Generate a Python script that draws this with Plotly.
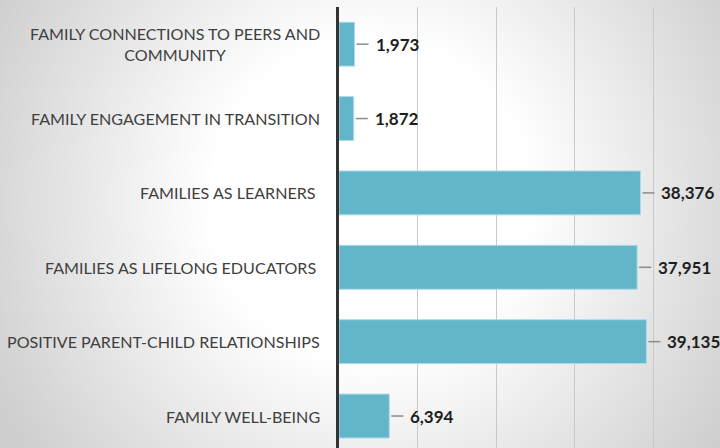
import plotly.graph_objects as go
import base64

# Data (bottom to top)
categories = [
    "FAMILY WELL-BEING",
    "POSITIVE PARENT-CHILD RELATIONSHIPS",
    "FAMILIES AS LIFELONG EDUCATORS ",
    "FAMILIES AS LEARNERS ",
    "FAMILY ENGAGEMENT IN TRANSITION",
    "FAMILY CONNECTIONS TO PEERS AND<br>COMMUNITY",
]
values = [6394, 39135, 37951, 38376, 1872, 1973]
value_labels = ["6,394", "39,135", "37,951", "38,376", "1,872", "1,973"]

BAR = "#63b5ca"
W, H = 720, 448

# radial gradient background as SVG data URI
svg = f'''<svg xmlns="http://www.w3.org/2000/svg" width="{W}" height="{H}">
<defs><radialGradient id="g" gradientUnits="userSpaceOnUse" cx="370" cy="200" r="420">
<stop offset="0" stop-color="#ffffff"/><stop offset="0.38" stop-color="#ffffff"/>
<stop offset="1" stop-color="#cfcfcf"/></radialGradient></defs>
<rect width="{W}" height="{H}" fill="url(#g)"/></svg>'''
bg = "data:image/svg+xml;base64," + base64.b64encode(svg.encode()).decode()

fig = go.Figure()
fig.add_trace(go.Bar(
    x=values, y=categories, orientation="h",
    marker=dict(color=BAR, line=dict(color="#a9dce8", width=1)),
    width=0.59, hoverinfo="skip",
))

annotations = []
shapes = []
for cat, v, lab in zip(categories, values, value_labels):
    annotations.append(dict(
        x=v, y=cat, xref="x", yref="y", text=lab, showarrow=False,
        xanchor="left", yanchor="middle", xshift=19,
        font=dict(family="Lato", size=17, color="#1e1e1e", weight="bold"),
    ))
    shapes.append(dict(
        type="line", xref="x", yref="y", xsizemode="pixel", xanchor=v,
        x0=2, x1=14, y0=cat, y1=cat,
        line=dict(color="#8c8c8c", width=1.5),
    ))
    annotations.append(dict(
        x=0, y=cat, xref="paper", yref="y",
        text=cat.rstrip() + ("\u00a0" if cat.endswith(" ") else ""),
        showarrow=False, xanchor="right", yanchor="middle", xshift=-17, align="center",
        font=dict(family="Lato", size=16.1, color="#404040"),
    ))

fig.update_layout(
    width=W, height=H,
    margin=dict(l=339, r=0, t=7, b=0),
    paper_bgcolor="rgba(0,0,0,0)", plot_bgcolor="rgba(0,0,0,0)",
    showlegend=False,
    bargap=0.41,
    xaxis=dict(range=[0, 48500], dtick=10000, showgrid=True, gridcolor="#c9c9c9",
               gridwidth=1, zeroline=False, showticklabels=False, ticks=""),
    yaxis=dict(range=[-0.43, 5.5], showticklabels=False, showline=True,
               linecolor="#333333", linewidth=3, showgrid=False, ticks=""),
    annotations=annotations,
    shapes=shapes,
    images=[dict(source=bg, xref="paper", yref="paper", x=-339/381, y=1 + 7/441,
                 sizex=W/381, sizey=H/441, sizing="stretch", xanchor="left",
                 yanchor="top", layer="below")],
)

fig.write_html("out.html", config={"displayModeBar": False},
               post_script="document.body.style.margin='0';document.body.style.overflow='hidden';")
